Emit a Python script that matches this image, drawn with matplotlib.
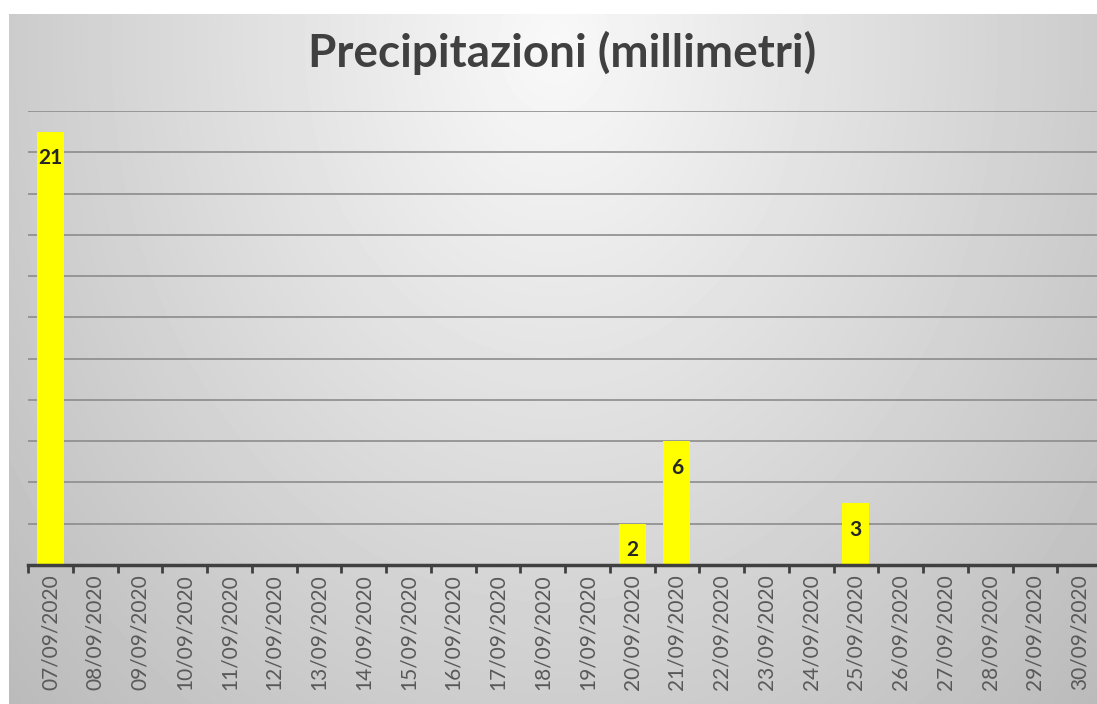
import numpy as np
import matplotlib.pyplot as plt

# ===================== dati =====================
giorni = ["%02d/09/2020" % d for d in range(7, 31)]
pioggia_mm = [21, 0, 0, 0, 0, 0, 0, 0, 0, 0, 0, 0, 0, 2, 6, 0, 0, 0, 3, 0, 0, 0, 0, 0]

W, H = 1097, 704
plt.rcParams['font.family'] = ['Lato', 'DejaVu Sans']

fig = plt.figure(figsize=(W / 100, H / 100), dpi=100)

# sfondo sfumato stile Excel
bg = fig.add_axes([9 / W, 0, 1 - 9 / W, (H - 14) / H])
yy, xx = np.mgrid[0:H - 14, 0:W - 9]
r = np.sqrt(((xx - 545) / 620.0) ** 2 + ((yy - 30) / 780.0) ** 2)
grad = np.clip(0.975 - 0.2 * r, 0, 1)
bg.imshow(grad, cmap="gray", vmin=0, vmax=1, aspect="auto", interpolation="bilinear")
bg.axis("off")

# grafico a barre
ax = fig.add_axes([28 / W, 139 / H, 1074 / W, 454 / H])
ax.patch.set_alpha(0)
x = np.arange(len(giorni))
ax.bar(x, pioggia_mm, width=0.6, color="#ffff00", zorder=3)

for xi, v in zip(x, pioggia_mm):
    if v > 0:
        ax.text(xi, v - 0.8, str(v), ha="center", va="top", fontsize=15,
                fontweight="bold", color="#262626", zorder=4)

ax.set_xlim(-0.5, len(giorni) - 0.5)
ax.set_ylim(0, 22)
ax.set_yticks(np.arange(2, 23, 2))
ax.yaxis.grid(True, color="#8c8c8c", linewidth=1.2, zorder=1)
ax.tick_params(axis="y", left=False, labelleft=False)

ax.set_xticks(x)
ax.set_xticklabels(giorni, rotation=90, fontsize=15, color="#595959")
ax.set_xticks(np.arange(-0.5, len(giorni), 1), minor=True)
ax.tick_params(axis="x", which="major", length=0, pad=7)
ax.tick_params(axis="x", which="minor", length=6, width=2, color="#404040", direction="out")

for s in ["top", "right", "left"]:
    ax.spines[s].set_visible(False)
ax.spines["bottom"].set_color("#404040")
ax.spines["bottom"].set_linewidth(2.5)
ax.spines["bottom"].set_zorder(5)

fig.text(562 / W, 1 - 53 / H, "Precipitazioni (millimetri)", ha="center", va="center",
         fontsize=33, fontweight="bold", color="#404040")

plt.savefig("out.png", dpi=100)
